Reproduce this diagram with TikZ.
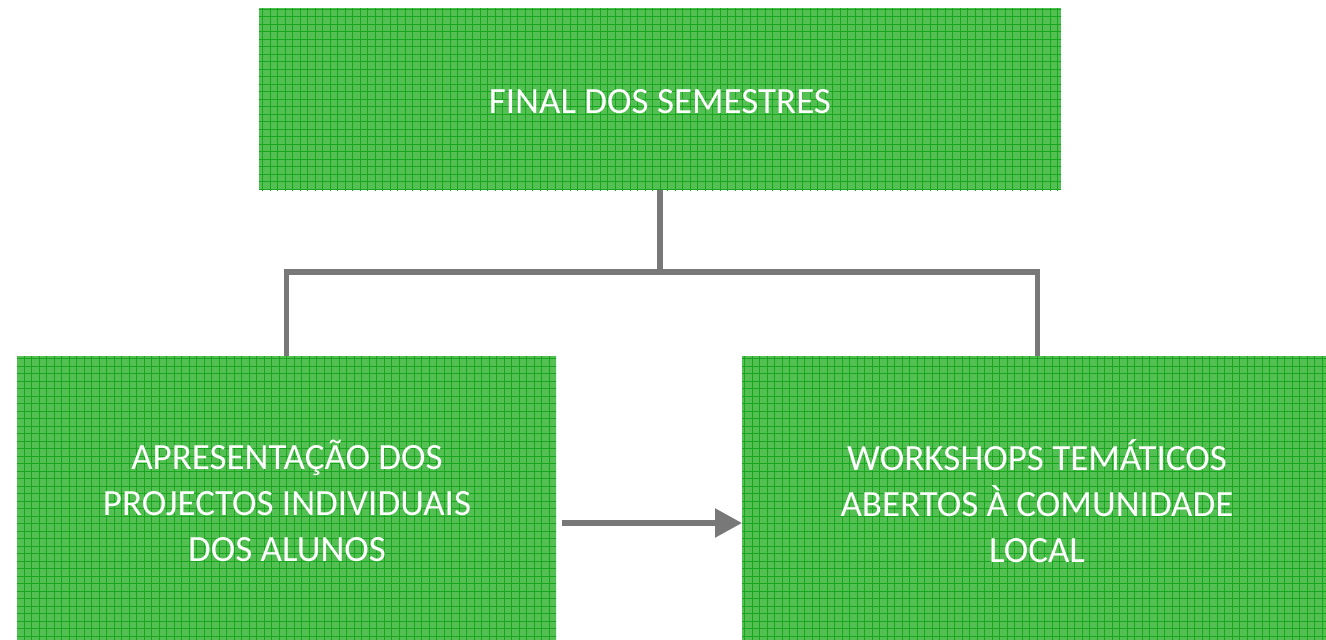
\documentclass[tikz,border=0pt]{standalone}
\usepackage{fontspec}
\setmainfont{Carlito}
\usetikzlibrary{arrows.meta}
\definecolor{boxgreen}{RGB}{84,192,84}
\definecolor{gridgreen}{RGB}{24,166,30}
\definecolor{linkgray}{RGB}{120,120,120}
\tikzset{
  greenbox/.style={draw=none, fill=boxgreen, anchor=north west, inner sep=0pt,
    path picture={
      \draw[gridgreen, line width=1.3pt]
        ([xshift=-20pt,yshift=-20pt]path picture bounding box.south west) grid[step=7.5pt]
        ([xshift=20pt,yshift=20pt]path picture bounding box.north east);
    }},
  boxtext/.style={text=white, font=\fontsize{37}{46}\selectfont, align=center, inner sep=0pt},
  link/.style={draw=linkgray, line width=5.5pt},
}
\begin{document}
\begin{tikzpicture}[x=1pt,y=-1pt]
\useasboundingbox (0,0) rectangle (1326,640);
\node[greenbox, minimum width=802pt, minimum height=182pt] (top) at (259,8) {};
\node[greenbox, minimum width=539pt, minimum height=290pt] (left) at (17,356) {};
\node[greenbox, minimum width=590pt, minimum height=290pt] (right) at (742,356) {};
\node[boxtext, anchor=base] (toptext) at (660,113) {FINAL DOS SEMESTRES};
\node[boxtext] (lefttext) at (287,501) {APRESENTAÇÃO DOS\\PROJECTOS INDIVIDUAIS\\DOS ALUNOS};
\node[boxtext] (righttext) at (1037,501) {WORKSHOPS TEMÁTICOS\\ABERTOS À COMUNIDADE\\LOCAL};
\coordinate (hub) at (660,272);
\coordinate (lcorner) at (286.5,272);
\coordinate (rcorner) at (1037.5,272);
\draw[link] (top.south -| hub) -- (hub);
\draw[link, line cap=rect] (lcorner) -- (rcorner);
\draw[link] (lcorner) -- (left.north -| lcorner);
\draw[link] (rcorner) -- (right.north -| rcorner);
\draw[link, -{Triangle[length=27pt,width=28pt]}] (562,523) -- (right.west |- 0,523);
\end{tikzpicture}
\end{document}
